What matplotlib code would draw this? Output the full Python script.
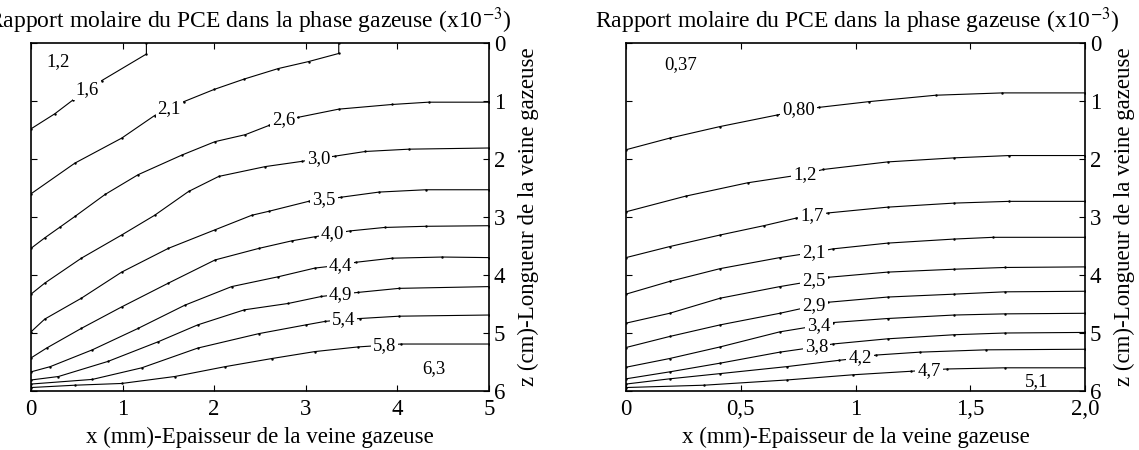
import numpy as np
import matplotlib.pyplot as plt

plt.rcParams['font.family'] = ['Liberation Serif', 'DejaVu Serif']
plt.rcParams['mathtext.fontset'] = 'stix'

# left panel : contour lines (x in mm, z in cm), label point is part of line
left_labels = ['1,6', '2,1', '2,6', '3,0', '3,5', '4,0', '4,4', '4,9', '5,4', '5,8']
left_x = [
    [0, 0.26, 0.46, 0.61, 0.77, 1.26, 1.26],
    [0, 0.48, 0.99, 1.35, 1.51, 1.67, 2.0, 2.33, 2.70, 3.03, 3.36, 3.36],
    [0, 0.15, 0.32, 0.48, 0.81, 1.17, 1.65, 2.01, 2.34, 2.60, 2.76, 2.92, 3.36, 3.94, 4.34, 5.0],
    [0, 0.15, 0.55, 0.99, 1.35, 1.72, 2.05, 2.56, 2.96, 3.14, 3.32, 3.65, 4.13, 5.0],
    [0, 0.15, 0.55, 0.99, 1.50, 2.01, 2.41, 2.60, 3.03, 3.20, 3.38, 3.80, 4.31, 5.0],
    [0, 0.17, 0.55, 0.99, 1.50, 2.01, 2.49, 2.85, 3.10, 3.29, 3.48, 3.86, 4.31, 5.0],
    [0, 0.21, 0.67, 1.17, 1.68, 2.19, 2.70, 3.10, 3.38, 3.55, 3.94, 4.49, 5.0],
    [0, 0.30, 0.84, 1.39, 1.82, 2.33, 2.81, 3.17, 3.38, 3.57, 4.02, 5.0],
    [0, 0.67, 1.21, 1.82, 2.49, 3.00, 3.21, 3.41, 3.59, 4.02, 5.0],
    [0, 0.48, 0.99, 1.57, 2.12, 2.63, 3.10, 3.57, 3.86, 4.04, 5.0],
]
left_z = [
    [1.48, 1.22, 0.98, 0.80, 0.65, 0.19, 0],
    [2.60, 2.07, 1.64, 1.25, 1.13, 1.01, 0.80, 0.62, 0.44, 0.32, 0.18, 0],
    [3.54, 3.36, 3.17, 2.99, 2.61, 2.27, 1.93, 1.70, 1.58, 1.42, 1.33, 1.28, 1.14, 1.06, 1.02, 1.02],
    [4.33, 4.14, 3.71, 3.31, 2.97, 2.56, 2.30, 2.13, 2.04, 1.99, 1.95, 1.87, 1.83, 1.81],
    [4.98, 4.76, 4.40, 3.95, 3.54, 3.22, 2.97, 2.90, 2.73, 2.70, 2.66, 2.57, 2.53, 2.53],
    [5.43, 5.26, 4.92, 4.55, 4.14, 3.74, 3.54, 3.41, 3.34, 3.29, 3.24, 3.18, 3.16, 3.15],
    [5.67, 5.58, 5.29, 4.92, 4.52, 4.20, 4.03, 3.88, 3.83, 3.78, 3.71, 3.69, 3.70],
    [5.81, 5.75, 5.49, 5.15, 4.86, 4.60, 4.49, 4.37, 4.33, 4.30, 4.23, 4.20],
    [5.88, 5.80, 5.60, 5.26, 5.01, 4.86, 4.80, 4.77, 4.75, 4.71, 4.69],
    [5.94, 5.90, 5.87, 5.75, 5.58, 5.44, 5.32, 5.24, 5.21, 5.19, 5.19],
]
left_lab_x = [0.61, 1.51, 2.76, 3.14, 3.20, 3.29, 3.38, 3.38, 3.41, 3.86]
left_lab_z = [0.80, 1.13, 1.32, 1.99, 2.70, 3.29, 3.83, 4.33, 4.77, 5.21]
left_region = [('1,2', 0.30, 0.32), ('6,3', 4.40, 5.62)]

# right panel
right_labels = ['0,80', '1,2', '1,7', '2,1', '2,5', '2,9', '3,4', '3,8', '4,2', '4,7']
right_x = [
    [0, 0.19, 0.41, 0.66, 0.75, 0.84, 1.06, 1.35, 1.64, 2.0],
    [0, 0.26, 0.53, 0.78, 0.86, 1.14, 1.43, 1.67, 2.0],
    [0, 0.19, 0.41, 0.60, 0.74, 0.81, 0.88, 1.14, 1.43, 1.67, 2.0],
    [0, 0.19, 0.41, 0.67, 0.82, 0.90, 1.14, 1.43, 1.60, 2.0],
    [0, 0.19, 0.41, 0.67, 0.82, 0.88, 1.14, 1.43, 1.65, 2.0],
    [0, 0.19, 0.41, 0.67, 0.82, 0.88, 1.14, 1.43, 1.65, 2.0],
    [0, 0.19, 0.41, 0.67, 0.84, 0.90, 1.14, 1.43, 1.65, 2.0],
    [0, 0.19, 0.41, 0.67, 0.83, 0.90, 1.14, 1.43, 1.65, 2.0],
    [0, 0.19, 0.41, 0.70, 0.93, 1.02, 1.09, 1.28, 1.57, 2.0],
    [0, 0.34, 0.70, 0.99, 1.24, 1.32, 1.40, 1.65, 2.0],
]
right_z = [
    [1.84, 1.64, 1.44, 1.24, 1.16, 1.11, 1.01, 0.90, 0.86, 0.86],
    [2.91, 2.64, 2.41, 2.26, 2.18, 2.05, 1.98, 1.94, 1.94],
    [3.70, 3.51, 3.31, 3.15, 3.02, 2.98, 2.93, 2.83, 2.76, 2.73, 2.73],
    [4.33, 4.11, 3.89, 3.70, 3.61, 3.55, 3.45, 3.38, 3.35, 3.35],
    [4.83, 4.66, 4.40, 4.20, 4.10, 4.04, 3.95, 3.90, 3.87, 3.86],
    [5.25, 5.06, 4.86, 4.66, 4.53, 4.47, 4.38, 4.33, 4.29, 4.28],
    [5.59, 5.44, 5.24, 4.98, 4.87, 4.82, 4.75, 4.69, 4.67, 4.66],
    [5.79, 5.67, 5.52, 5.33, 5.24, 5.19, 5.10, 5.03, 5.00, 4.99],
    [5.88, 5.79, 5.70, 5.58, 5.47, 5.43, 5.38, 5.33, 5.29, 5.28],
    [5.94, 5.90, 5.81, 5.72, 5.66, 5.64, 5.62, 5.60, 5.60],
]
right_lab_x = [0.75, 0.78, 0.81, 0.82, 0.82, 0.82, 0.84, 0.83, 1.02, 1.32]
right_lab_z = [1.14, 2.26, 2.98, 3.61, 4.10, 4.53, 4.87, 5.24, 5.43, 5.64]
right_region = [('0,37', 0.24, 0.38), ('5,1', 1.79, 5.84)]

left_xticks = [0, 1, 2, 3, 4, 5]
left_xticklabels = ['0', '1', '2', '3', '4', '5']
right_xticks = [0, 0.5, 1, 1.5, 2.0]
right_xticklabels = ['0', '0,5', '1', '1,5', '2,0']
zticks = [0, 1, 2, 3, 4, 5, 6]

title = 'Rapport molaire du PCE dans la phase gazeuse (x10$^{-3}$)'
xlabel = 'x (mm)-Epaisseur de la veine gazeuse'
ylabel = 'z (cm)-Longueur de la veine gazeuse'

fig = plt.figure(figsize=(11.39, 4.5), dpi=100)
ax1 = fig.add_axes([0.0272, 0.1311, 0.4021, 0.7733])
ax2 = fig.add_axes([0.5496, 0.1311, 0.4030, 0.7733])


def draw_panel(ax, xs, zs, labels, lx, lz, regions, xmax, xticks, xticklabels, title_x):
    for x, z, lab, tx, tz in zip(xs, zs, labels, lx, lz):
        ax.plot(x, z, color='black', lw=0.8, marker='.', markersize=1.5)
        ax.text(tx, tz, lab, fontsize=13.5, ha='center', va='center',
                bbox=dict(facecolor='white', edgecolor='none', pad=1.5))
    for lab, tx, tz in regions:
        ax.text(tx, tz, lab, fontsize=13.5, ha='center', va='center')
    ax.set_xlim(0, xmax)
    ax.set_ylim(6, 0)
    ax.set_xticks(xticks)
    ax.set_xticklabels(xticklabels)
    ax.set_yticks(zticks)
    ax.tick_params(axis='x', pad=6)
    ax.tick_params(direction='in', length=4, width=0.8, top=True, right=True,
                   left=True, labelleft=False, labelright=True,
                   labelsize=16.5)
    ax.yaxis.set_label_position('right')
    ax.set_ylabel(ylabel, fontsize=16.5, rotation=90, labelpad=9)
    ax.set_xlabel(xlabel, fontsize=16.5, labelpad=5)
    ax.set_title(title, fontsize=17, pad=11, x=title_x)
    for sp in ax.spines.values():
        sp.set_linewidth(1.2)


draw_panel(ax1, left_x, left_z, left_labels, left_lab_x, left_lab_z,
           left_region, 5, left_xticks, left_xticklabels, 0.476)
draw_panel(ax2, right_x, right_z, right_labels, right_lab_x, right_lab_z,
           right_region, 2.0, right_xticks, right_xticklabels, 0.505)

fig.savefig('out.png', dpi=100)
